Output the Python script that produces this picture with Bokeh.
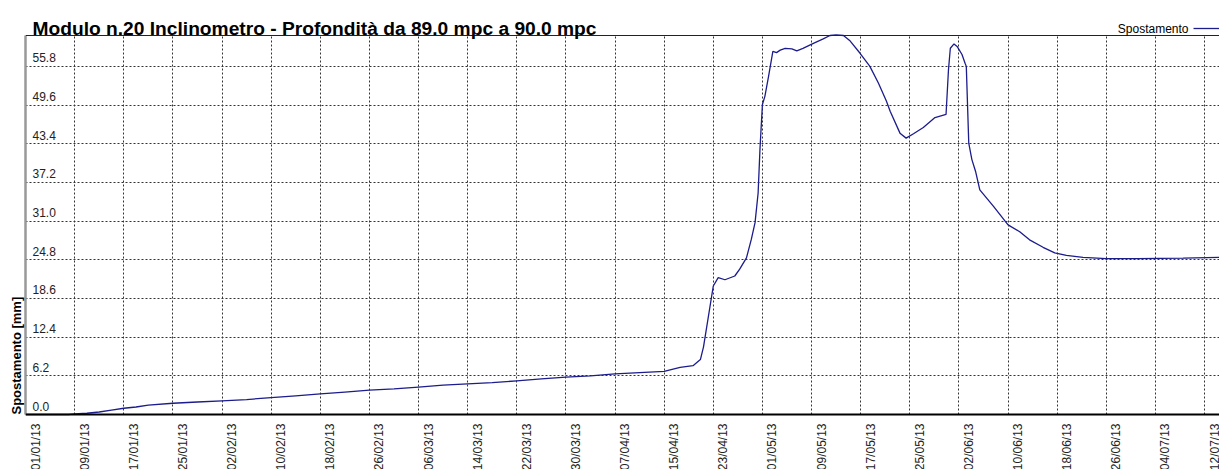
import pandas as pd
from math import pi
from bokeh.plotting import figure
from bokeh.models import (ColumnDataSource, Range1d, FixedTicker, LabelSet, Label,
                          Title, Legend, LegendItem, Span, Grid)
from bokeh.embed import file_html
from bokeh.resources import INLINE
from bokeh.core.properties import value

titolo = "Modulo n.20 Inclinometro - Profondità da 89.0 mpc a 90.0 mpc"
serie = "Spostamento"
etichetta_y = "Spostamento [mm]"
data_inizio = "2013-01-01"

# giorni trascorsi dal 01/01/13
giorni = [0, 7, 8, 10, 12, 14, 16, 18, 20, 24, 28, 32, 36, 40, 44, 48, 52, 56, 60, 64,
          68, 72, 76, 80, 84, 88, 92, 96, 100, 104, 106.6, 108.7, 109.9, 110.4, 112.0,
          112.8, 113.9, 115.5, 116.3, 117.4, 118.2, 118.8, 119.3, 119.6, 120.0, 120.4,
          121.0, 121.7, 122.3, 122.9, 123.7, 124.8, 125.6, 126.6, 128.3, 129.9, 131.0,
          132.0, 133.2, 134.2, 135.9, 137.5, 138.9, 140.2, 140.8, 142.4, 143.4, 144.6,
          146.2, 148.1, 149.9, 150.3, 150.6, 151.2, 151.7, 152.5, 153.0, 153.2, 153.6,
          154.1, 154.7, 155.4, 157.6, 160.0, 161.9, 163.5, 165.7, 167.6, 169.5, 172.2,
          176.0, 181.0, 188.5, 194.4]
spostamento = [0, 0, 0.1, 0.2, 0.4, 0.7, 1.0, 1.2, 1.5, 1.8, 2.0, 2.2, 2.4, 2.7, 3.0, 3.3,
               3.6, 3.9, 4.1, 4.4, 4.7, 4.9, 5.1, 5.4, 5.7, 6.0, 6.2, 6.5, 6.7, 6.9, 7.56,
               7.83, 8.8, 10.8, 20.6, 21.95, 21.6, 22.2, 23.3, 25.1, 28.1, 30.75, 35.5,
               42.5, 49.7, 51.0, 54.2, 58.2, 58.0, 58.4, 58.7, 58.6, 58.3, 58.7, 59.5,
               60.2, 60.75, 60.86, 60.75, 59.96, 57.9, 55.8, 53.1, 50.2, 48.6, 45.1, 44.3,
               45.0, 46.0, 47.6, 48.1, 55.3, 58.7, 59.4, 59.0, 57.7, 56.3, 55.8, 43.5,
               40.9, 39.0, 36.0, 33.4, 30.4, 29.3, 28.0, 26.8, 25.9, 25.5, 25.2,
               25.0, 25.0, 25.05, 25.2]

etichette_x = ["01/01/13", "09/01/13", "17/01/13", "25/01/13", "02/02/13", "10/02/13",
               "18/02/13", "26/02/13", "06/03/13", "14/03/13", "22/03/13", "30/03/13",
               "07/04/13", "15/04/13", "23/04/13", "01/05/13", "09/05/13", "17/05/13",
               "25/05/13", "02/06/13", "10/06/13", "18/06/13", "26/06/13", "04/07/13",
               "12/07/13"]
etichette_y = ["0.0", "6.2", "12.4", "18.6", "24.8", "31.0", "37.2", "43.4", "49.6", "55.8"]
y_massimo = 60.75

EPOCH = pd.Timestamp("1970-01-01")
t0 = pd.Timestamp(data_inizio)


def ms(t):
    return (t - EPOCH).total_seconds() * 1000.0


x_ms = [ms(t0 + pd.Timedelta(days=g)) for g in giorni]
tick_x = [ms(pd.to_datetime(s, format="%d/%m/%y")) for s in etichette_x]
tick_y = [float(s) for s in etichette_y]

FONT = "Liberation Sans"

# layout (pixel)
W, H = 1219, 469
LEFT, TOP_AREA, BOTTOM = 25, 35, 414          # area dati: x da 25, y da 35 a 414
PX_DAY = 6.141
PXU = (BOTTOM - TOP_AREA) / y_massimo
DAY_MS = 86400000.0

x_end = ms(t0) + (W - LEFT) / PX_DAY * DAY_MS
y_start = -(H - BOTTOM) / PXU
y_end = y_massimo + TOP_AREA / PXU

p = figure(width=W, height=H, x_axis_type="datetime",
           x_range=Range1d(ms(t0), x_end), y_range=Range1d(y_start, y_end),
           x_axis_location=None, y_axis_location="left",
           output_backend="svg", toolbar_location=None,
           min_border_left=LEFT, min_border_right=0, min_border_top=0, min_border_bottom=0)
p.outline_line_color = None
p.background_fill_color = "white"
p.border_fill_color = "white"

# asse sinistro: solo linea grigia
ya = p.yaxis[0]
ya.ticker = FixedTicker(ticks=[])
ya.major_tick_out = 0
ya.major_tick_in = 0
ya.minor_tick_out = 0
ya.minor_tick_in = 0
ya.major_label_standoff = 0
ya.axis_line_color = "#999999"
ya.axis_line_width = 2.5
ya.bounds = (0, y_massimo)

# griglia
xg = p.xgrid[0]
yg = p.ygrid[0]
xg.ticker = FixedTicker(ticks=tick_x[1:])
yg.ticker = FixedTicker(ticks=tick_y[1:])
has_cross = "cross_bounds" in Grid.properties()
if has_cross:
    xg.cross_bounds = (0, y_massimo)
for g in (xg, yg):
    g.grid_line_color = "#333333"
    g.grid_line_dash = "2 2"
    g.grid_line_width = 1
if not has_cross:
    xg.visible = False
    p.segment(x0=tick_x[1:], y0=[0] * (len(tick_x) - 1), x1=tick_x[1:],
              y1=[y_massimo] * (len(tick_x) - 1), line_color="#333333",
              line_dash="2 2", line_width=1)

# bordo superiore e asse inferiore
p.add_layout(Span(location=y_massimo, dimension="width", line_color="#222222", line_width=1))
p.add_layout(Span(location=0, dimension="width", line_color="#000000", line_width=2))

# serie
src = ColumnDataSource(dict(x=x_ms, y=spostamento))
r = p.line("x", "y", source=src, line_color="#1c1c8c", line_width=1.3)

# titolo
p.add_layout(Label(x=ms(t0), y=y_massimo + (TOP_AREA - 27.5) / PXU, x_offset=7,
                   text=titolo, text_font=FONT, text_font_size="19.2px",
                   text_font_style="bold", text_color="#000000",
                   text_align="left", text_baseline="alphabetic"))

# etichette asse x (ruotate)
lab_x = ColumnDataSource(dict(x=tick_x, y=[0.0] * len(tick_x), text=etichette_x))
p.add_layout(LabelSet(x="x", y="y", text="text", source=lab_x, angle=pi / 2,
                      text_align="right", text_baseline="middle", x_offset=10, y_offset=-9,
                      text_font=value(FONT), text_font_size="12px", text_color="#222222"))

# etichette asse y (interne)
lab_y = ColumnDataSource(dict(x=[tick_x[0]] * len(tick_y), y=tick_y, text=etichette_y))
p.add_layout(LabelSet(x="x", y="y", text="text", source=lab_y,
                      text_align="left", text_baseline="alphabetic", x_offset=7, y_offset=4,
                      text_font=value(FONT), text_font_size="12px", text_color="#222222"))

# titolo asse y
ty = Title(text=etichetta_y, align="left", text_font=FONT, text_font_size="13px",
           text_font_style="bold", text_color="#000000", standoff=4,
           offset=H - BOTTOM)
p.add_layout(ty, "left")

# legenda
leg = Legend(items=[LegendItem(label=value(""), renderers=[r])],
             location=(1193 - LEFT, H - 35),
             glyph_width=30, glyph_height=14, label_width=0, label_height=14,
             label_standoff=0, label_text_font_size="0px", padding=0, margin=0, spacing=0,
             border_line_color=None, background_fill_alpha=0)
p.add_layout(leg)
p.add_layout(Label(x=1188 - LEFT, y=H - 28, x_units="screen", y_units="screen", text=serie,
                   text_align="right", text_baseline="middle", text_font=FONT,
                   text_font_size="12px", text_color="#000000"))

open("out.html", "w").write(file_html(p, INLINE))
